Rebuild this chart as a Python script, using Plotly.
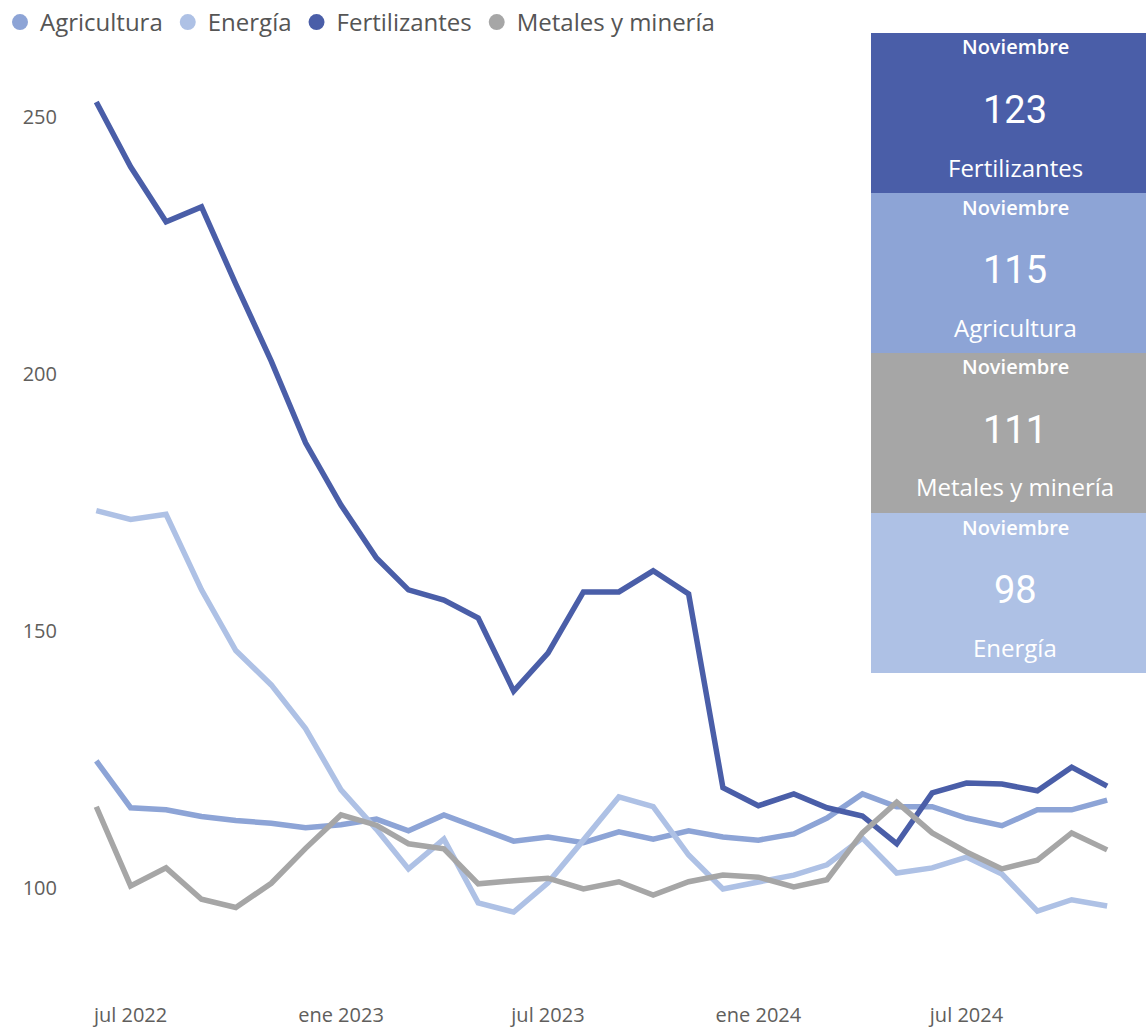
import plotly.graph_objects as go
import pandas as pd

# ---- data ----
dates = pd.date_range("2022-06-01", "2024-11-01", freq="MS")

agricultura = [124.7, 115.6, 115.2, 113.9, 113.1, 112.6, 111.7, 112.3, 113.4, 111.1,
               114.2, 111.7, 109.1, 109.9, 108.8, 110.9, 109.5, 111.1, 109.9, 109.3,
               110.5, 113.6, 118.3, 115.8, 115.8, 113.6, 112.1, 115.2, 115.2, 117.1]
energia = [173.4, 171.7, 172.7, 158.0, 146.2, 139.5, 131.0, 119.1, 111.4, 103.7,
           109.5, 97.1, 95.3, 101.0, 109.3, 117.7, 115.8, 106.4, 99.8, 101.1,
           102.5, 104.5, 109.7, 102.9, 103.9, 106.0, 102.7, 95.5, 97.7, 96.5]
fertilizantes = [252.9, 240.3, 229.6, 232.5, 217.5, 202.5, 186.6, 174.5, 164.2, 158.0,
                 156.0, 152.5, 138.3, 145.7, 157.6, 157.6, 161.7, 157.2, 119.5, 116.0,
                 118.3, 115.6, 114.0, 108.6, 118.5, 120.4, 120.2, 118.9, 123.5, 119.8]
metales = [115.8, 100.4, 103.9, 97.8, 96.2, 100.9, 107.7, 114.2, 112.2, 108.6,
           107.6, 100.8, 101.4, 101.9, 99.8, 101.2, 98.6, 101.2, 102.5, 102.1,
           100.2, 101.6, 110.7, 116.7, 110.7, 107.0, 103.7, 105.4, 110.7, 107.4]

series_names = ["Agricultura", "Energía", "Fertilizantes", "Metales y minería"]
series_values = [agricultura, energia, fertilizantes, metales]
series_colors = ["#8DA4D6", "#AEC1E5", "#4A5EA8", "#A6A6A6"]

tick_dates = ["2022-07-01", "2023-01-01", "2023-07-01", "2024-01-01", "2024-07-01"]
tick_labels = ["jul 2022", "ene 2023", "jul 2023", "ene 2024", "jul 2024"]

card_month = "Noviembre"
card_names = ["Fertilizantes", "Agricultura", "Metales y minería", "Energía"]
card_values = ["123", "115", "111", "98"]
card_colors = ["#4A5EA8", "#8DA4D6", "#A6A6A6", "#AEC1E5"]

# ---- layout geometry ----
W, H = 1146, 1027
L, R, T, B = 70, 16, 55, 26

def px_x(px):
    return (px - L) / (W - L - R)

def px_y(py):
    return (H - B - py) / (H - T - B)

fig = go.Figure()

for name, vals, col in zip(series_names, series_values, series_colors):
    fig.add_trace(go.Scatter(x=dates, y=vals, mode="lines", name=name,
                             line=dict(color=col, width=5.5), showlegend=False))
# legend entries (circle markers)
for name, col in zip(series_names, series_colors):
    fig.add_trace(go.Scatter(x=[None], y=[None], mode="markers", name=name,
                             marker=dict(color=col, size=16, symbol="circle")))

# ---- cards ----
card_top = 33
card_h = 160
for i, (nm, val, col) in enumerate(zip(card_names, card_values, card_colors)):
    top = card_top + i * card_h
    fig.add_shape(type="rect", xref="paper", yref="paper",
                  x0=px_x(871), x1=px_x(1160), y0=px_y(top + card_h), y1=px_y(top),
                  fillcolor=col, line=dict(width=0), layer="above")
    common = dict(xref="paper", yref="paper", x=px_x(1015), showarrow=False,
                  xanchor="center", yanchor="middle")
    fig.add_annotation(y=px_y(top + 14), text=card_month,
                       font=dict(family="Open Sans", size=20, color="white", weight=600),
                       **common)
    fig.add_annotation(y=px_y(top + 77), text=val,
                       font=dict(family="Roboto", size=38, color="white"), **common)
    fig.add_annotation(y=px_y(top + 134), text=nm,
                       font=dict(family="Open Sans", size=24, color="white"), **common)

fig.update_layout(
    width=W, height=H,
    margin=dict(l=L, r=R, t=T, b=B, autoexpand=False),
    paper_bgcolor="white", plot_bgcolor="white",
    font=dict(family="Open Sans", color="#605E5C"),
    legend=dict(orientation="h", xref="container", yref="container",
                x=0.0, y=1.0, xanchor="left", yanchor="top",
                font=dict(size=24, color="#555555"), itemwidth=30,
                tracegroupgap=0, bgcolor="rgba(0,0,0,0)"),
    xaxis=dict(range=["2022-05-09", "2024-11-21"], tickvals=tick_dates,
               ticktext=tick_labels, showgrid=False, zeroline=False,
               showline=False, tickfont=dict(size=20, color="#605E5C")),
    yaxis=dict(range=[78.0, 262.06], tickvals=[100, 150, 200, 250],
               showgrid=False, zeroline=False, showline=False,
               ticklabelstandoff=12,
               tickfont=dict(size=20, color="#605E5C")),
)

fig.write_html("out.html", config={"displayModeBar": False},
               post_script="document.body.style.margin='0';document.body.style.overflow='hidden';")
